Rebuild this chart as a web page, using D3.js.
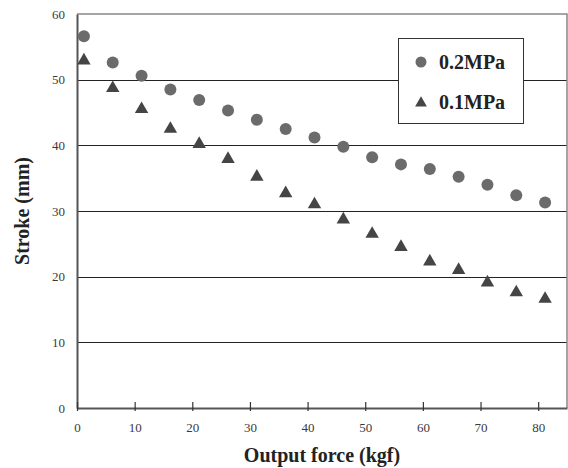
<!DOCTYPE html>
<html>
<head>
<meta charset="utf-8">
<script src="https://cdn.jsdelivr.net/npm/d3@7/dist/d3.min.js"></script>
<style>
  body { margin: 0; background: #fff; }
  svg { display: block; font-family: "Liberation Serif", "Times New Roman", serif; }
</style>
</head>
<body>
<svg id="chart"></svg>
<script>
const force = [1.2, 6.2, 11.2, 16.2, 21.2, 26.2, 31.2, 36.2, 41.2, 46.2, 51.2, 56.2, 61.2, 66.2, 71.2, 76.2, 81.2];
const stroke02 = [56.6, 52.6, 50.6, 48.5, 46.9, 45.3, 43.9, 42.5, 41.2, 39.8, 38.2, 37.1, 36.4, 35.2, 34.0, 32.4, 31.3];
const stroke01 = [52.9, 48.7, 45.5, 42.5, 40.2, 37.9, 35.2, 32.7, 31.0, 28.7, 26.5, 24.5, 22.3, 21.0, 19.1, 17.6, 16.6];
const xTicks = [0, 10, 20, 30, 40, 50, 60, 70, 80];
const yTicks = [0, 10, 20, 30, 40, 50, 60];
const seriesNames = ["0.2MPa", "0.1MPa"];

const width = 568, height = 468;
const margin = { top: 14, right: 1, bottom: 60, left: 77 };
const serif = "'Liberation Serif', 'Times New Roman', serif";

const svg = d3.select("#chart")
  .attr("width", width)
  .attr("height", height)
  .attr("viewBox", [0, 0, width, height]);

const x = d3.scaleLinear()
  .domain([0, 85])
  .range([margin.left, width - margin.right]);

const y = d3.scaleLinear()
  .domain([0, 60])
  .range([height - margin.bottom, margin.top]);

// gridlines
svg.append("g")
  .attr("stroke", "#222")
  .attr("stroke-width", 1)
  .selectAll("line")
  .data(yTicks.filter(d => d > 0 && d < 60))
  .join("line")
  .attr("x1", x(0))
  .attr("x2", x(85))
  .attr("y1", d => Math.round(y(d)) + 0.5)
  .attr("y2", d => Math.round(y(d)) + 0.5);

// top and right border
svg.append("path")
  .attr("fill", "none")
  .attr("stroke", "#888")
  .attr("stroke-width", 1.5)
  .attr("d", `M${x(0)},${y(60)}H${x(85)}V${y(0)}`);

// y axis
const yAxis = g => g
  .attr("transform", `translate(${x(0)},0)`)
  .call(d3.axisLeft(y).tickValues(yTicks).tickSize(0).tickPadding(12))
  .attr("font-family", serif)
  .attr("font-size", 13)
  .call(g => g.select(".domain").attr("stroke", "#555").attr("stroke-width", 2))
  .call(g => g.selectAll("text").attr("fill", "#3a3a3a"));

// x axis
const xAxis = g => g
  .attr("transform", `translate(0,${y(0)})`)
  .call(d3.axisBottom(x).tickValues(xTicks).tickSize(3).tickPadding(12).tickSizeOuter(0))
  .attr("font-family", serif)
  .attr("font-size", 13)
  .call(g => g.select(".domain").attr("stroke", "#555").attr("stroke-width", 2))
  .call(g => g.selectAll(".tick line").attr("y1", -6).attr("stroke", "#333").attr("stroke-width", 1.2))
  .call(g => g.selectAll("text").attr("fill", "#3a3a3a"));

svg.append("g").call(yAxis);
svg.append("g").call(xAxis);

// points
const tri = d3.symbol(d3.symbolTriangle, 78);

svg.append("g")
  .attr("fill", "#6b6b6b")
  .selectAll("circle")
  .data(force)
  .join("circle")
  .attr("cx", d => x(d))
  .attr("cy", (d, i) => y(stroke02[i]))
  .attr("r", 6);

svg.append("g")
  .attr("fill", "#454545")
  .selectAll("path")
  .data(force)
  .join("path")
  .attr("transform", (d, i) => `translate(${x(d)},${y(stroke01[i])})`)
  .attr("d", tri);

// legend
const legend = svg.append("g").attr("transform", "translate(398,38)");
legend.append("rect")
  .attr("x", 0.5).attr("y", 0.5)
  .attr("width", 125).attr("height", 85)
  .attr("fill", "#fff")
  .attr("stroke", "#333")
  .attr("stroke-width", 1);
legend.append("circle")
  .attr("cx", 23).attr("cy", 24).attr("r", 5.5)
  .attr("fill", "#6b6b6b");
legend.append("path")
  .attr("transform", "translate(23,65)")
  .attr("d", d3.symbol(d3.symbolTriangle, 60))
  .attr("fill", "#454545");
legend.selectAll("text")
  .data(seriesNames)
  .join("text")
  .attr("x", 41)
  .attr("y", (d, i) => 31 + i * 40)
  .attr("font-family", serif)
  .attr("font-size", 20)
  .attr("font-weight", "bold")
  .attr("fill", "#222")
  .text(d => d);

// axis titles
svg.append("text")
  .attr("x", (x(0) + x(85)) / 2)
  .attr("y", 462)
  .attr("text-anchor", "middle")
  .attr("font-family", serif)
  .attr("font-size", 20)
  .attr("font-weight", "bold")
  .attr("fill", "#222")
  .text("Output force (kgf)");

svg.append("text")
  .attr("transform", `translate(29,${(y(0) + y(60)) / 2}) rotate(-90)`)
  .attr("text-anchor", "middle")
  .attr("font-family", serif)
  .attr("font-size", 20)
  .attr("font-weight", "bold")
  .attr("fill", "#222")
  .text("Stroke (mm)");
</script>
</body>
</html>
